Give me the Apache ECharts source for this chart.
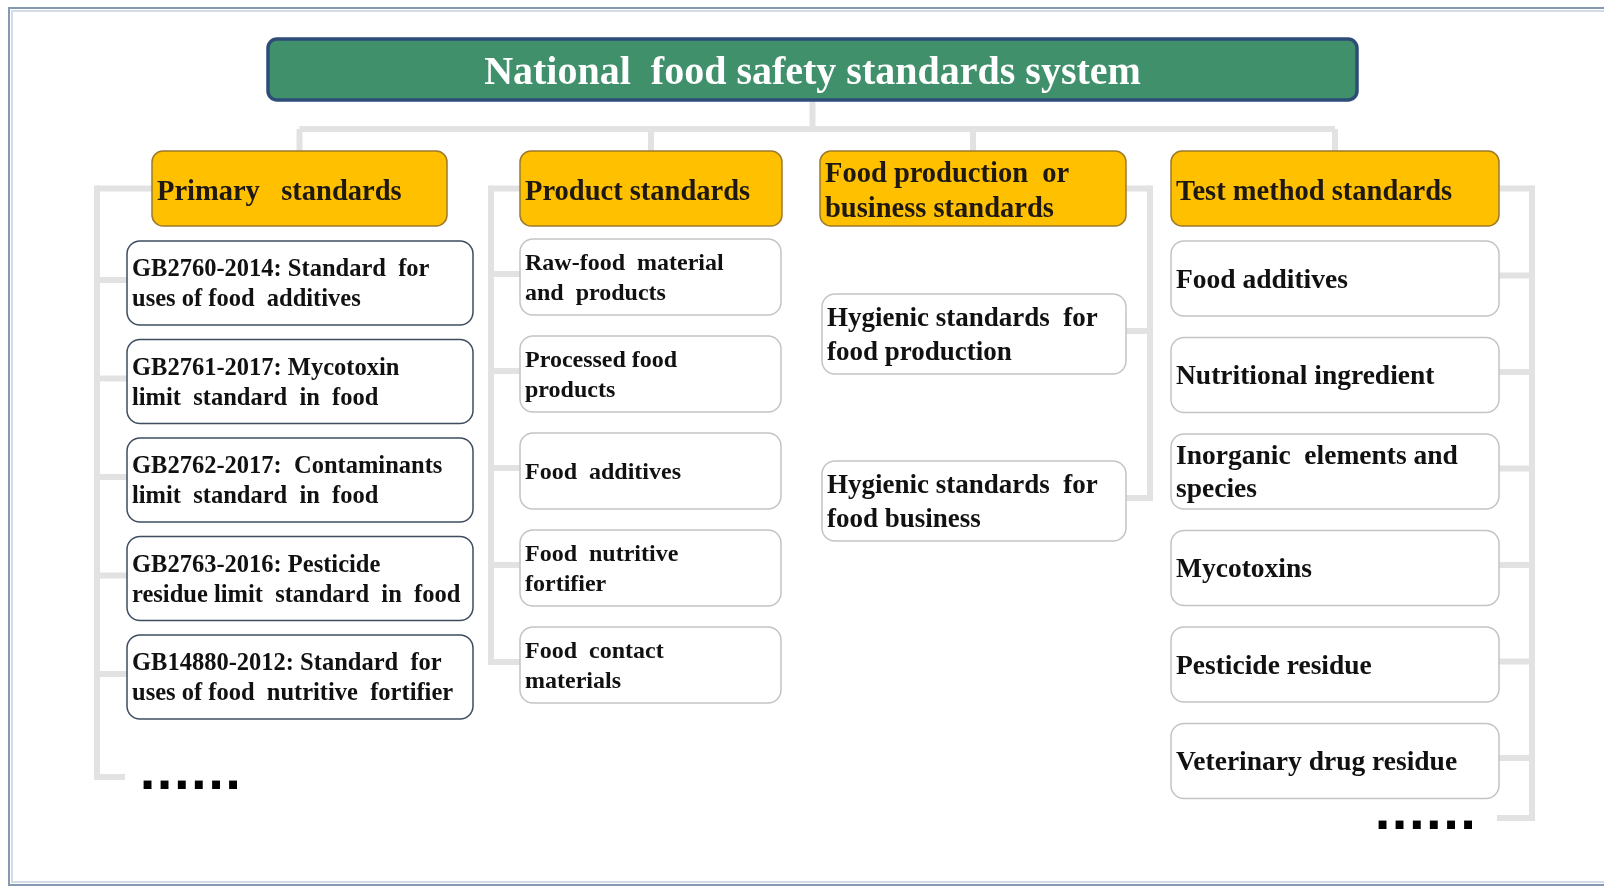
<!DOCTYPE html>
<html>
<head>
<meta charset="utf-8">
<title>National food safety standards system</title>
<script src="https://cdn.jsdelivr.net/npm/echarts@6/dist/echarts.min.js"></script>
<style>
  html, body { margin: 0; padding: 0; background: #fff; }
  #chart { width: 1604px; height: 886px; }
</style>
</head>
<body>
<div id="chart"></div>
<script>
// texts of the diagram
const titleText = 'National  food safety standards system';
const groupNames = ['Primary   standards', 'Product standards', 'Food production  or\nbusiness standards', 'Test method standards'];
const primaryItems = [
  'GB2760-2014: Standard  for\nuses of food  additives',
  'GB2761-2017: Mycotoxin\nlimit  standard  in  food',
  'GB2762-2017:  Contaminants\nlimit  standard  in  food',
  'GB2763-2016: Pesticide\nresidue limit  standard  in  food',
  'GB14880-2012: Standard  for\nuses of food  nutritive  fortifier'
];
const productItems = [
  'Raw-food  material\nand  products',
  'Processed food\nproducts',
  'Food  additives',
  'Food  nutritive\nfortifier',
  'Food  contact\nmaterials'
];
const businessItems = [
  'Hygienic standards  for\nfood production',
  'Hygienic standards  for\nfood business'
];
const testItems = [
  'Food additives',
  'Nutritional ingredient',
  'Inorganic  elements and\nspecies',
  'Mycotoxins',
  'Pesticide residue',
  'Veterinary drug residue'
];
const moreMark = '......';
const groupItems = [primaryItems, productItems, businessItems, testItems];

// layout, in units of the 1604 x 886 canvas
const titleBox = { x: 268, y: 39, w: 1089, h: 61 };
const treeY = 129;
const headY = 151;
const headH = 75;
const columns = [
  { x: 152, w: 295, cx: 127, cw: 346, top: 241, step: 98.5, h: 84, size: 24.5, lh: 30, border: '#3f4d60', side: 'left', bx: 97, end: 777, endTo: 125, more: [139, 800] },
  { x: 520, w: 262, cx: 520, cw: 261, top: 239, step: 97, h: 76, size: 24, lh: 30, border: '#c4c4c4', side: 'left', bx: 491 },
  { x: 820, w: 306, cx: 822, cw: 304, top: 294, step: 167, h: 80, size: 27, lh: 34, border: '#c4c4c4', side: 'right', bx: 1150 },
  { x: 1171, w: 328, cx: 1171, cw: 328, top: 241, step: 96.5, h: 75, size: 27.5, lh: 33, border: '#c4c4c4', side: 'right', bx: 1532, end: 818, endTo: 1497, more: [1374, 840] }
];
const lineColor = '#e2e2e2';
const serif = '"Liberation Serif", "DejaVu Serif", serif';

const nodes = [{ kind: 'title', text: titleText }];
groupNames.forEach(function (g, c) {
  nodes.push({ kind: 'head', col: c, text: g });
  groupItems[c].forEach(function (t, r) {
    nodes.push({ kind: 'item', col: c, row: r, text: t });
  });
  if (columns[c].more) nodes.push({ kind: 'more', col: c, text: moreMark });
});

function nodeBox(n) {
  if (n.kind === 'title') return titleBox;
  const c = columns[n.col];
  if (n.kind === 'head') return { x: c.x, y: headY, w: c.w, h: headH };
  if (n.kind === 'more') return { x: c.more[0], y: c.more[1], w: 0, h: 0 };
  return { x: c.cx, y: c.top + n.row * c.step, w: c.cw, h: c.h };
}

function renderNode(params, api) {
  const n = nodes[params.dataIndex];
  const b = nodeBox(n);
  const p = api.coord([b.x, b.y]);
  const s = api.size([b.w, b.h]);
  if (n.kind === 'more') {
    // square dots, like the reference
    return {
      type: 'text', x: p[0], y: p[1],
      style: { text: n.text, fill: '#000', fontFamily: '"DejaVu Sans"', fontWeight: 'bold', fontSize: 45, verticalAlign: 'bottom' }
    };
  }
  let rect, text;
  if (n.kind === 'title') {
    rect = { fill: '#41906c', stroke: '#2d4c78', lineWidth: 3.5, r: 9 };
    text = { fill: '#ffffff', size: 40, lh: 44, align: 'center', dy: 4 };
  } else if (n.kind === 'head') {
    rect = { fill: '#ffc000', stroke: '#9c7a2a', lineWidth: 1.5, r: 11 };
    text = { fill: '#1e1812', size: 28.5, lh: 35, align: 'left', dy: 4 };
  } else {
    const c = columns[n.col];
    rect = { fill: '#ffffff', stroke: c.border, lineWidth: 1.5, r: 13 };
    text = { fill: '#111111', size: c.size, lh: c.lh, align: 'left', dy: 2 };
  }
  return {
    type: 'group',
    children: [
      {
        type: 'rect',
        shape: { x: p[0], y: p[1], width: s[0], height: s[1], r: rect.r },
        style: { fill: rect.fill, stroke: rect.stroke, lineWidth: rect.lineWidth }
      },
      {
        type: 'text',
        x: text.align === 'center' ? p[0] + s[0] / 2 : p[0] + 5,
        y: p[1] + s[1] / 2 + text.dy,
        style: {
          text: n.text, fill: text.fill, fontFamily: serif, fontWeight: 'bold',
          fontSize: text.size, lineHeight: text.lh, align: text.align, verticalAlign: 'middle'
        }
      }
    ]
  };
}

// connector lines: index 0 is the tree under the title, then one bracket per column
function renderLinks(params, api) {
  const segs = [];
  const i = params.dataIndex;
  if (i === 0) {
    const tx = titleBox.x + titleBox.w / 2;
    segs.push([[tx, titleBox.y + titleBox.h], [tx, treeY]]);
    const first = columns[0], last = columns[columns.length - 1];
    segs.push([[first.x + first.w / 2, treeY], [last.x + last.w / 2, treeY]]);
    columns.forEach(function (c) {
      segs.push([[c.x + c.w / 2, treeY], [c.x + c.w / 2, headY]]);
    });
  } else {
    const c = columns[i - 1];
    const items = groupItems[i - 1];
    const hy = headY + headH / 2;
    const headEdge = c.side === 'left' ? c.x : c.x + c.w;
    const childEdge = c.side === 'left' ? c.cx : c.cx + c.cw;
    segs.push([[headEdge, hy], [c.bx, hy]]);
    let bottom = hy;
    items.forEach(function (t, r) {
      const y = c.top + r * c.step + c.h / 2 - 3;
      segs.push([[c.bx, y], [childEdge, y]]);
      bottom = y;
    });
    if (c.end) {
      bottom = c.end;
      segs.push([[c.bx, c.end], [c.endTo, c.end]]);
    }
    segs.push([[c.bx, hy - 3], [c.bx, bottom + 3]]);
  }
  return {
    type: 'group',
    children: segs.map(function (sg) {
      return {
        type: 'polyline',
        shape: { points: sg.map(function (pt) { return api.coord(pt); }) },
        style: { stroke: lineColor, lineWidth: 6, fill: null }
      };
    })
  };
}

const chart = echarts.init(document.getElementById('chart'));
chart.setOption({
  animation: false,
  backgroundColor: '#ffffff',
  grid: { left: 0, right: 0, top: 0, bottom: 0 },
  xAxis: { type: 'value', min: 0, max: 1604, show: false },
  yAxis: { type: 'value', min: 0, max: 886, inverse: true, show: false },
  graphic: [
    { type: 'rect', shape: { x: 9, y: 8, width: 1700, height: 877 }, style: { fill: null, stroke: '#8599b2', lineWidth: 2 }, silent: true },
    { type: 'rect', shape: { x: 12, y: 11, width: 1700, height: 871 }, style: { fill: null, stroke: '#d3dbe5', lineWidth: 2 }, silent: true }
  ],
  series: [
    {
      type: 'custom',
      name: 'links',
      silent: true,
      renderItem: renderLinks,
      data: [0].concat(columns.map(function (c, i) { return i + 1; })).map(function (i) { return [i, 0]; }),
      z: 1
    },
    {
      type: 'custom',
      name: 'nodes',
      silent: true,
      renderItem: renderNode,
      data: nodes.map(function (n, i) { return [i, 0]; }),
      z: 2
    }
  ]
});
</script>
</body>
</html>
